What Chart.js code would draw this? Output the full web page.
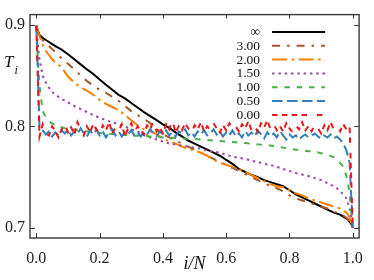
<!DOCTYPE html>
<html><head><meta charset="utf-8">
<script src="https://cdn.jsdelivr.net/npm/chart.js@4.4.1/dist/chart.umd.min.js"></script>
<style>html,body{margin:0;padding:0;background:#fff;}canvas{display:block;}</style>
</head><body>
<canvas id="c" width="374" height="280"></canvas>
<script>
const xTicks = [0, 0.2, 0.4, 0.6, 0.8, 1.0];
const yTicks = [0.7, 0.8, 0.9];
const seriesLabels = ['\u221E', '3.00', '2.00', '1.50', '1.00', '0.50', '0.00'];

const xSmooth = [0,0.005,0.01,0.02,0.03,0.04,0.05,0.06,
 0.08,0.10,0.12,0.14,0.16,0.18,0.20,0.22,0.24,0.26,0.28,0.30,0.32,0.34,0.36,0.38,0.40,0.42,0.44,0.46,0.48,0.50,
 0.52,0.54,0.56,0.58,0.60,0.62,0.64,0.66,0.68,0.70,0.72,0.74,0.76,0.78,0.80,0.82,0.84,0.86,0.88,0.90,0.92,0.94,
 0.95,0.96,0.97,0.98,0.985,0.99,0.995,1.0];

const tInf = [0.899,0.894,0.890,0.887,0.885,0.883,0.881,0.879,
 0.8755,0.871,0.866,0.861,0.856,0.8515,0.846,0.841,0.836,0.831,0.8275,0.823,0.8185,0.814,0.810,0.806,0.802,0.7985,0.794,0.790,0.786,0.783,
 0.780,0.777,0.774,0.771,0.767,0.763,0.758,0.755,0.752,0.750,0.747,0.745,0.743,0.741,0.737,0.733,0.730,0.727,0.724,0.721,0.718,0.715,
 0.714,0.713,0.711,0.709,0.708,0.706,0.704,0.701];

const t300 = [0.899,0.893,0.889,0.885,0.882,0.879,0.876,0.873,
 0.867,0.8615,0.856,0.850,0.8445,0.840,0.836,0.833,0.829,0.825,0.820,0.815,0.811,0.8075,0.803,0.797,0.792,0.789,0.786,0.783,0.780,0.777,
 0.774,0.771,0.768,0.765,0.762,0.759,0.756,0.753,0.750,0.747,0.744,0.741,0.739,0.736,0.732,0.729,0.727,0.725,0.723,0.721,0.719,0.716,
 0.715,0.714,0.712,0.710,0.708,0.706,0.703,0.700];

const t200 = [0.899,0.893,0.889,0.880,0.874,0.870,0.866,0.863,
 0.858,0.849,0.843,0.8385,0.835,0.831,0.826,0.822,0.819,0.816,0.811,0.806,0.801,0.797,0.7955,0.792,0.788,0.785,0.783,0.780,0.778,0.776,
 0.774,0.771,0.767,0.764,0.762,0.760,0.758,0.755,0.752,0.749,0.746,0.743,0.741,0.740,0.737,0.734,0.732,0.729,0.727,0.725,0.723,0.721,
 0.720,0.719,0.717,0.715,0.713,0.710,0.705,0.700];

const t150 = [0.899,0.880,0.866,0.850,0.843,0.838,0.834,0.831,
 0.827,0.8235,0.820,0.817,0.814,0.811,0.8085,0.806,0.804,0.802,0.800,0.797,0.795,0.791,0.789,0.787,0.785,0.783,0.782,0.781,0.780,0.779,
 0.778,0.776,0.775,0.774,0.772,0.770,0.769,0.768,0.766,0.765,0.763,0.762,0.760,0.758,0.756,0.754,0.7525,0.751,0.749,0.747,0.744,0.741,
 0.739,0.736,0.733,0.729,0.724,0.719,0.711,0.700];

const t100 = [0.899,0.863,0.840,0.815,0.809,0.805,0.803,0.801,
 0.799,0.797,0.7965,0.7955,0.795,0.794,0.7935,0.793,0.7925,0.792,0.7915,0.791,0.7908,0.7905,0.790,0.7895,0.789,0.7888,0.7885,0.788,0.7878,0.7875,
 0.787,0.7865,0.786,0.7855,0.785,0.7845,0.784,0.7835,0.783,0.7822,0.7815,0.781,0.780,0.779,0.778,0.777,0.7765,0.7755,0.775,0.7735,0.772,0.7695,
 0.767,0.764,0.760,0.751,0.744,0.733,0.717,0.700];

const xNoisy = [0,0.01,0.02,0.03,0.04,0.05,0.06,0.07,0.08,0.09,0.10,0.11,0.12,0.13,0.14,0.15,0.16,0.17,0.18,0.19,
 0.20,0.21,0.22,0.23,0.24,0.25,0.26,0.27,0.28,0.29,0.30,0.31,0.32,0.33,0.34,0.35,0.36,0.37,0.38,0.39,
 0.40,0.41,0.42,0.43,0.44,0.45,0.46,0.47,0.48,0.49,0.50,0.51,0.52,0.53,0.54,0.55,0.56,0.57,0.58,0.59,
 0.60,0.61,0.62,0.63,0.64,0.65,0.66,0.67,0.68,0.69,0.70,0.71,0.72,0.73,0.74,0.75,0.76,0.77,0.78,0.79,
 0.80,0.81,0.82,0.83,0.84,0.85,0.86,0.87,0.88,0.89,0.90,0.91,0.92,0.93,0.94,0.95,0.96,0.97,0.98,0.99,1.0];

const t050 = [0.899,0.800,0.796,0.792,0.795,0.790,0.794,0.791,0.796,0.793,
 0.797,0.791,0.795,0.792,0.798,0.793,0.790,0.796,0.792,0.797,
 0.791,0.795,0.789,0.794,0.797,0.791,0.795,0.790,0.794,0.792,
 0.796,0.791,0.794,0.790,0.795,0.792,0.797,0.793,0.790,0.795,
 0.792,0.796,0.791,0.794,0.790,0.795,0.793,0.797,0.791,0.794,
 0.790,0.795,0.792,0.796,0.791,0.793,0.797,0.792,0.795,0.790,
 0.794,0.791,0.796,0.790,0.793,0.789,0.795,0.791,0.794,0.790,
 0.796,0.792,0.788,0.794,0.790,0.793,0.789,0.795,0.791,0.787,
 0.792,0.789,0.791,0.787,0.790,0.792,0.789,0.791,0.793,0.790,
 0.788,0.791,0.789,0.792,0.788,0.790,0.787,0.783,0.776,0.764,0.700];

const t000 = [0.899,0.790,0.802,0.793,0.791,0.800,0.795,0.789,0.797,0.803,
 0.794,0.799,0.792,0.804,0.796,0.791,0.800,0.794,0.802,0.797,
 0.792,0.801,0.796,0.804,0.793,0.799,0.795,0.802,0.790,0.798,
 0.803,0.794,0.800,0.796,0.792,0.801,0.797,0.805,0.795,0.799,
 0.793,0.802,0.797,0.806,0.794,0.800,0.796,0.803,0.798,0.793,
 0.801,0.797,0.804,0.795,0.800,0.796,0.803,0.798,0.794,0.801,
 0.796,0.803,0.797,0.800,0.795,0.802,0.798,0.805,0.796,0.801,
 0.794,0.803,0.799,0.806,0.797,0.802,0.796,0.800,0.795,0.803,
 0.798,0.794,0.801,0.797,0.804,0.796,0.800,0.795,0.802,0.798,
 0.793,0.801,0.796,0.804,0.797,0.800,0.795,0.802,0.797,0.799,0.700];

function pts(xs, ys) { return xs.map((x, i) => ({x: x, y: ys[i]})); }

const serif = "'Liberation Serif', 'DejaVu Serif', serif";

const datasets = [
  {label: seriesLabels[0], data: pts(xSmooth, tInf), borderColor: '#000000', borderWidth: 2, borderDash: [], order: 6},
  {label: seriesLabels[1], data: pts(xSmooth, t300), borderColor: '#a65628', borderWidth: 2, borderDash: [8, 7, 2.5, 7], order: 5},
  {label: seriesLabels[2], data: pts(xSmooth, t200), borderColor: '#ff7f00', borderWidth: 2, borderDash: [15, 4.5, 2.5, 4.5], order: 4},
  {label: seriesLabels[3], data: pts(xSmooth, t150), borderColor: '#984ea3', borderWidth: 2, borderDash: [2.5, 3.8], order: 3},
  {label: seriesLabels[4], data: pts(xSmooth, t100), borderColor: '#4daf4a', borderWidth: 2, borderDash: [5.5, 6.8], order: 2},
  {label: seriesLabels[5], data: pts(xNoisy, t050), borderColor: '#377eb8', borderWidth: 2, borderDash: [10.5, 4.5], order: 1},
  {label: seriesLabels[6], data: pts(xNoisy, t000), borderColor: '#e41a1c', borderWidth: 2, borderDash: [5.5, 4.3, 5.5, 4.3, 5.5, 4.3, 5.5, 10], order: 0}
];
datasets.forEach(d => { d.pointRadius = 0; d.tension = 0; d.fill = false; d.borderCapStyle = 'butt'; });

const deco = {
  id: 'deco',
  afterDraw(chart) {
    const ctx = chart.ctx, ca = chart.chartArea;
    const xs = chart.scales.x, ys = chart.scales.y;
    ctx.save();
    ctx.strokeStyle = '#3a3a3a';
    ctx.lineWidth = 1.4;
    ctx.strokeRect(ca.left, ca.top, ca.right - ca.left, ca.bottom - ca.top);
    ctx.lineWidth = 1.1;
    ctx.beginPath();
    xTicks.forEach(v => {
      const p = Math.round(xs.getPixelForValue(v)) + 0.5;
      ctx.moveTo(p, ca.bottom); ctx.lineTo(p, ca.bottom - 5);
      ctx.moveTo(p, ca.top); ctx.lineTo(p, ca.top + 4);
    });
    yTicks.forEach(v => {
      const p = Math.round(ys.getPixelForValue(v)) + 0.5;
      ctx.moveTo(ca.left, p); ctx.lineTo(ca.left + 5, p);
      ctx.moveTo(ca.right, p); ctx.lineTo(ca.right - 5, p);
    });
    ctx.stroke();
    ctx.fillStyle = '#111';
    ctx.textBaseline = 'alphabetic';
    ctx.textAlign = 'left';
    ctx.font = 'italic 17px ' + serif;
    ctx.fillText('T', 4, 66.5);
    ctx.font = 'italic 12px ' + serif;
    ctx.fillText('i', 14.5, 73.5);
    const textX = ca.right - 99, l0 = ca.right - 87, l1 = ca.right - 34;
    const y0 = ca.top + 17.3, dy = 13.83;
    ctx.font = '13.5px ' + serif;
    ctx.textAlign = 'right';
    ctx.textBaseline = 'middle';
    chart.data.datasets.forEach((d, i) => {
      const y = y0 + i * dy;
      ctx.fillStyle = '#111';
      ctx.fillText(d.label, textX, y + 0.5);
      ctx.strokeStyle = d.borderColor;
      ctx.lineWidth = d.borderWidth;
      ctx.setLineDash(d.borderDash);
      ctx.beginPath();
      ctx.moveTo(l0, y); ctx.lineTo(l1, y);
      ctx.stroke();
      ctx.setLineDash([]);
    });
    ctx.restore();
  }
};

new Chart(document.getElementById('c'), {
  type: 'line',
  data: {datasets: datasets},
  options: {
    responsive: false,
    animation: false,
    devicePixelRatio: 1,
    layout: {padding: {top: 2, right: 12, left: 0, bottom: 0}},
    plugins: {legend: {display: false}, tooltip: {enabled: false}},
    scales: {
      x: {
        type: 'linear', min: -0.02, max: 1.02,
        afterBuildTicks: s => { s.ticks = xTicks.map(v => ({value: v})); },
        afterFit: s => { s.height = 42; },
        grid: {display: false, drawTicks: false},
        border: {display: false},
        ticks: {padding: 11, color: '#222', font: {family: serif, size: 16}, callback: v => Number(v).toFixed(1), maxRotation: 0, autoSkip: false},
        title: {display: true, text: 'i/N', color: '#111', font: {family: serif, size: 18, style: 'italic'}, padding: {top: 0, bottom: 5}}
      },
      y: {
        type: 'linear', min: 0.69, max: 0.91,
        afterBuildTicks: s => { s.ticks = yTicks.map(v => ({value: v})); },
        afterFit: s => { s.width = 30; },
        grid: {display: false, drawTicks: false},
        border: {display: false},
        ticks: {padding: 5, color: '#222', font: {family: serif, size: 16}, callback: v => Number(v).toFixed(1), autoSkip: false}
      }
    }
  },
  plugins: [deco]
});
</script>
</body></html>
